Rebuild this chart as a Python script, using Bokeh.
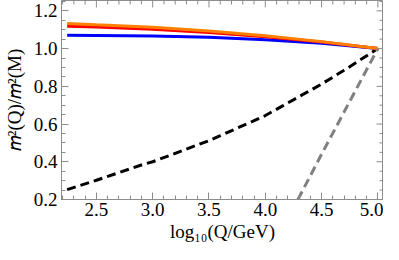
import numpy as np
from bokeh.plotting import figure
from bokeh.models import Range1d, SingleIntervalTicker, PrintfTickFormatter
from bokeh.embed import file_html
from bokeh.resources import INLINE

# ---- data ----
x_top = [2.24, 2.5, 3.0, 3.5, 4.0, 4.5, 5.0]
orange_y = [1.133, 1.126, 1.113, 1.093, 1.068, 1.037, 1.0]
red_y = [1.119, 1.114, 1.103, 1.085, 1.063, 1.035, 1.0]
blue_y = [1.071, 1.070, 1.067, 1.060, 1.047, 1.028, 1.0]

x_black = [2.24, 2.5, 2.9, 3.0, 3.5, 3.6, 4.0, 4.15, 4.5, 4.7, 5.0]
black_y = [0.252, 0.302, 0.383, 0.400, 0.512, 0.538, 0.645, 0.695, 0.812, 0.885, 1.0]

x_gray = [4.29, 4.5, 4.75, 5.0]
gray_y = [0.20, 0.44, 0.72, 1.0]

x_ticks = [2.0, 2.5, 3.0, 3.5, 4.0, 4.5, 5.0]
y_ticks = [0.2, 0.4, 0.6, 0.8, 1.0, 1.2]

X0, X1 = 2.19, 5.05
Y0, Y1 = 0.2, 1.255

FONT = "Liberation Serif"
FS = "19px"
GRAY = "#8c8c8c"

p = figure(width=383, height=244, output_backend="svg", toolbar_location=None,
           x_range=Range1d(X0, X1), y_range=Range1d(Y0, Y1),
           x_axis_label="log₁₀(Q/GeV)", y_axis_label="𝑚²(Q)/𝑚²(M)")
p.min_border = 0
p.min_border_left = 4
p.min_border_right = 0
p.min_border_top = 0
p.min_border_bottom = 0
p.grid.visible = False
p.outline_line_color = GRAY
p.background_fill_color = "white"
p.border_fill_color = "white"

p.line(x_black, black_y, line_color="black", line_width=3, line_dash="9 5")
p.line(x_gray, gray_y, line_color="#808080", line_width=3, line_dash="9 5")
p.line(x_top, blue_y, line_color="#0000ff", line_width=3)
p.line(x_top, red_y, line_color="#ff0000", line_width=3)
p.line(x_top, orange_y, line_color="#ff8000", line_width=3)

def style(ax):
    ax.axis_line_color = GRAY
    ax.major_tick_line_color = GRAY
    ax.minor_tick_line_color = GRAY
    ax.major_tick_in = 7
    ax.major_tick_out = 0
    ax.minor_tick_in = 4
    ax.minor_tick_out = 0
    ax.major_label_text_font = FONT
    ax.major_label_text_font_size = FS
    ax.major_label_text_color = "black"
    ax.axis_label_text_font = FONT
    ax.axis_label_text_font_size = FS
    ax.axis_label_text_font_style = "normal"
    ax.axis_label_text_color = "black"
    ax.formatter = PrintfTickFormatter(format="%.1f")

for ax in p.xaxis:
    ax.ticker = SingleIntervalTicker(interval=0.5, num_minor_ticks=5)
    style(ax)
    ax.major_label_standoff = 3
    ax.axis_label_standoff = 2
for ax in p.yaxis:
    ax.ticker = SingleIntervalTicker(interval=0.2, num_minor_ticks=4)
    style(ax)
    ax.major_label_standoff = 4
    ax.axis_label_standoff = 6

# mirrored frame ticks on top and right (Mathematica-style frame ticks)
xmaj = np.array(x_ticks)
xmin_t = np.concatenate([xmaj[:-1] + k * 0.1 for k in range(1, 5)])
ymaj = np.array(y_ticks)
ymin_t = np.concatenate([ymaj[:-1] + k * 0.05 for k in range(1, 4)] + [ymaj[-1:] + 0.05])

p.scatter(xmaj, [Y1] * len(xmaj), marker="dash", angle=np.pi / 2, size=14,
          line_color=GRAY, line_width=1)
p.scatter(xmin_t, [Y1] * len(xmin_t), marker="dash", angle=np.pi / 2, size=8,
          line_color=GRAY, line_width=1)
p.scatter([X1] * len(ymaj), ymaj, marker="dash", size=14, line_color=GRAY, line_width=1)
p.scatter([X1] * len(ymin_t), ymin_t, marker="dash", size=8, line_color=GRAY, line_width=1)

open("out.html", "w").write(file_html(p, INLINE))
